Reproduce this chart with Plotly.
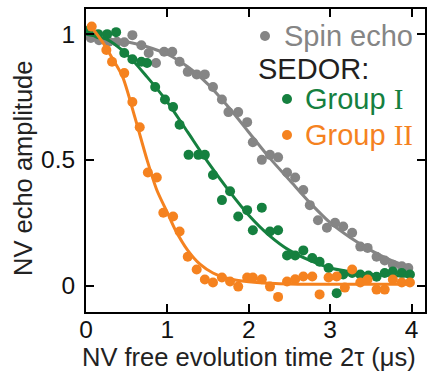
import plotly.graph_objects as go

# ---------------- data ----------------
spin_x = [0.06, 0.16, 0.28, 0.38, 0.47, 0.57, 0.68, 0.77, 0.86, 0.96, 1.06, 1.15, 1.25, 1.36,
          1.46, 1.56, 1.67, 1.75, 1.87, 1.98, 2.05, 2.16, 2.26, 2.36, 2.47, 2.57, 2.67, 2.75,
          2.85, 2.96, 3.06, 3.16, 3.27, 3.37, 3.46, 3.57, 3.67, 3.77, 3.88, 3.96]
spin_y = [0.985, 0.976, 0.97, 0.97, 0.968, 0.996, 0.956, 0.925, 0.885, 0.93, 0.93, 0.89, 0.85, 0.84,
          0.84, 0.79, 0.74, 0.69, 0.69, 0.65, 0.57, 0.50, 0.52, 0.51, 0.45, 0.43, 0.38, 0.32,
          0.26, 0.23, 0.25, 0.235, 0.21, 0.155, 0.15, 0.115, 0.10, 0.083, 0.077, 0.07]

g1_x = [0.04, 0.15, 0.26, 0.37, 0.47, 0.57, 0.68, 0.75, 0.85, 0.97, 1.07, 1.15, 1.26, 1.38,
        1.46, 1.56, 1.67, 1.77, 1.87, 1.98, 2.05, 2.16, 2.26, 2.36, 2.47, 2.57, 2.67, 2.78,
        2.87, 2.98, 3.08, 3.16, 3.27, 3.37, 3.47, 3.57, 3.67, 3.77, 3.88, 3.98]
g1_y = [1.016, 1.0, 1.0, 1.008, 0.925, 0.9, 0.89, 0.885, 0.79, 0.74, 0.71, 0.64, 0.52, 0.52,
        0.52, 0.44, 0.34, 0.375, 0.275, 0.30, 0.22, 0.31, 0.215, 0.22, 0.12, 0.12, 0.14, 0.11,
        0.095, 0.07, -0.03, 0.044, 0.05, 0.044, 0.04, 0.035, 0.05, 0.056, 0.05, 0.044]

g2_x = [0.07, 0.25, 0.32, 0.47, 0.57, 0.66, 0.76, 0.87, 0.95, 1.07, 1.15, 1.25, 1.36, 1.46,
        1.56, 1.67, 1.77, 1.87, 1.98, 2.05, 2.16, 2.26, 2.36, 2.47, 2.57, 2.67, 2.78, 2.87,
        2.98, 3.08, 3.18, 3.27, 3.37, 3.46, 3.57, 3.67, 3.77, 3.88, 3.98]
g2_y = [1.03, 0.937, 0.89, 0.845, 0.73, 0.63, 0.45, 0.43, 0.29, 0.275, 0.215, 0.115, 0.064, 0.024,
        0.012, 0.032, 0.016, -0.004, 0.032, 0.032, 0.025, -0.004, -0.045, 0.016, 0.025, 0.036, 0.036, -0.035,
        0.032, 0.036, -0.008, 0.064, 0.012, 0.024, -0.016, -0.016, 0.024, 0.012, 0.012]

# fitted curves
spin_fit_x = [0, 0.25, 0.5, 0.75, 1.0, 1.25, 1.5, 1.75, 2.0, 2.25, 2.5, 2.75, 3.0, 3.25, 3.5, 3.75, 4.0]
spin_fit_y = [0.985, 0.982, 0.97, 0.95, 0.92, 0.87, 0.80, 0.71, 0.61, 0.51, 0.42, 0.33, 0.25, 0.19, 0.14, 0.10, 0.07]

g1_fit_x = [0.0, 0.25, 0.5, 0.75, 1.0, 1.25, 1.5, 1.75, 2.0, 2.25, 2.5, 2.75, 3.0, 3.25, 3.5, 3.75, 4.0]
g1_fit_y = [1.0, 0.98, 0.92, 0.83, 0.73, 0.61, 0.49, 0.38, 0.28, 0.20, 0.14, 0.10, 0.07, 0.055, 0.045, 0.04, 0.036]

g2_fit_x = [0.04, 0.2, 0.33, 0.45, 0.6, 0.75, 0.87, 1.0, 1.1, 1.25, 1.4, 1.56, 1.8, 2.1, 2.5, 3.0, 3.5, 4.0]
g2_fit_y = [1.04, 0.97, 0.9, 0.83, 0.67, 0.5, 0.38, 0.29, 0.22, 0.14, 0.085, 0.05, 0.024, 0.012, 0.006, 0.005, 0.005, 0.005]

x_ticks = [0, 1, 2, 3, 4]
x_ticklabels = ["0", "1", "2", "3", "4"]
y_ticks = [0, 0.5, 1]
y_ticklabels = ["0", "0.5", "1"]

GRAY = "#858585"
GREEN = "#15803f"
ORANGE = "#f5821f"
FONT = "Liberation Sans, Arial, sans-serif"

fig = go.Figure()
for fx, fy, px_, py_, col in [(spin_fit_x, spin_fit_y, spin_x, spin_y, GRAY),
                              (g1_fit_x, g1_fit_y, g1_x, g1_y, GREEN),
                              (g2_fit_x, g2_fit_y, g2_x, g2_y, ORANGE)]:
    fig.add_trace(go.Scatter(x=px_, y=py_, mode="markers",
                             marker=dict(size=10, color=col, line=dict(width=0)),
                             showlegend=False, cliponaxis=False))
    fig.add_trace(go.Scatter(x=fx, y=fy, mode="lines",
                             line=dict(color=col, width=3, shape="spline", smoothing=0.8),
                             showlegend=False))

# plot area in pixels
L, R, T, B = 86, 4, 9, 60
W, H = 429, 372
PW, PH = W - L - R, H - T - B


def pxx(p):
    return (p - L) / PW


def pxy(p):
    return 1 - (p - T) / PH


legend_items = [
    ("Spin echo", GRAY, 282, 36, 265),
    ("SEDOR:", "#231f20", 256, 69, None),
    ('Group <span style="font-family:Liberation Serif">I</span>', GREEN, 303, 99, 287),
    ('Group <span style="font-family:Liberation Serif">II</span>', ORANGE, 303, 135, 287),
]
shapes = []
annotations = []
for text, col, tx, ty, dx in legend_items:
    annotations.append(dict(text=text, x=pxx(tx), y=pxy(ty), xref="paper", yref="paper",
                            xanchor="left", yanchor="middle", showarrow=False,
                            font=dict(family=FONT, size=29, color=col)))
    if dx is not None:
        shapes.append(dict(type="circle", xref="paper", yref="paper",
                           xsizemode="pixel", ysizemode="pixel",
                           xanchor=pxx(dx), yanchor=pxy(ty),
                           x0=-5, x1=5, y0=-5, y1=5,
                           fillcolor=col, line=dict(width=0)))

# axis titles
annotations.append(dict(text="NV echo amplitude", x=pxx(23), y=pxy(169), xref="paper", yref="paper",
                        xanchor="center", yanchor="middle", textangle=-90, showarrow=False,
                        font=dict(family=FONT, size=25.5, color="#222")))
annotations.append(dict(text="NV free evolution time 2τ (μs)", x=pxx(248.5), y=pxy(371.5),
                        xref="paper", yref="paper", xanchor="center", yanchor="bottom",
                        borderpad=0, showarrow=False,
                        font=dict(family=FONT, size=25.5, color="#222")))

axis_common = dict(showgrid=False, zeroline=False, ticks="inside", ticklen=8, tickwidth=2,
                   tickcolor="black", showline=True, linewidth=2, linecolor="black",
                   mirror="ticks", automargin=False,
                   tickfont=dict(family=FONT, size=24.5, color="#111"))

fig.update_layout(
    width=W, height=H,
    margin=dict(l=L, r=R, t=T, b=B),
    plot_bgcolor="white", paper_bgcolor="white",
    font=dict(family=FONT, color="#111"),
    showlegend=False,
    xaxis=dict(range=[0, 4.165], tickvals=x_ticks, ticktext=x_ticklabels,
               ticklabelstandoff=-5, **axis_common),
    yaxis=dict(range=[-0.105, 1.1], tickvals=y_ticks, ticktext=y_ticklabels,
               ticklabelstandoff=4, **axis_common),
    shapes=shapes,
    annotations=annotations,
)

fig.write_html("out.html")
